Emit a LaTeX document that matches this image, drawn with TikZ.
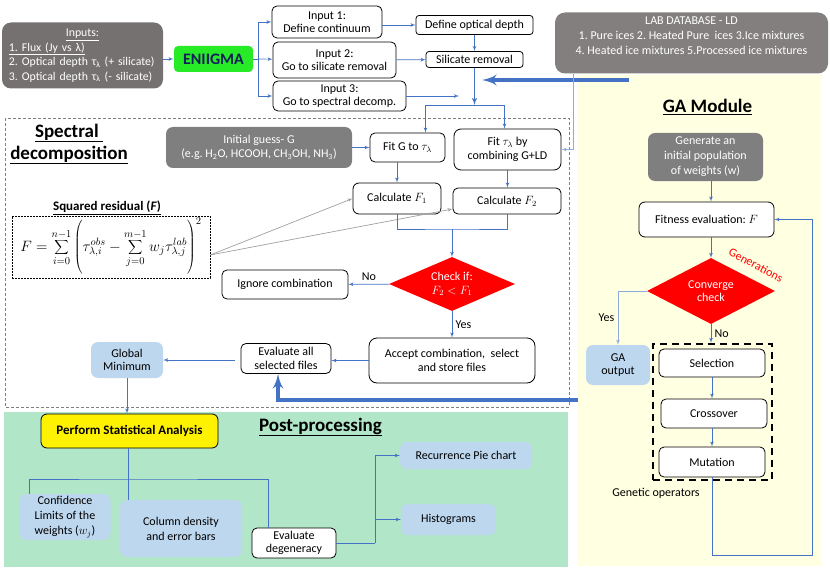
\documentclass[tikz,border=0pt]{standalone}
\usepackage{fix-cm}
\usepackage{fontspec}
\setmainfont{Carlito}
\frenchspacing
\usetikzlibrary{arrows,shapes.geometric}
\definecolor{arrowblue}{RGB}{68,114,196}
\definecolor{paleblue}{RGB}{143,170,220}
\definecolor{darkgrey}{RGB}{118,113,113}
\definecolor{midgrey}{RGB}{127,127,127}
\definecolor{skyblue}{RGB}{189,215,238}
\definecolor{mintgreen}{RGB}{178,230,200}
\definecolor{cream}{RGB}{255,255,226}
\definecolor{limegreen}{RGB}{40,235,40}
\definecolor{navy}{RGB}{20,30,90}
\definecolor{lightgrey}{RGB}{160,160,160}

\begin{document}
\begin{tikzpicture}[x=1pt,y=-1pt,>=latex',
  font=\fontsize{12}{13.5}\selectfont,
  box/.style={draw,rounded corners=5pt,fill=white,align=center,inner sep=1pt,line width=0.8pt},
  greybox/.style={fill=midgrey,rounded corners=7pt,text=white,align=center,inner sep=1pt},
  bluebox/.style={fill=skyblue,rounded corners=7pt,align=center,inner sep=1pt},
  decision/.style={diamond,aspect=2.3,fill=red,text=white,align=center,inner sep=0pt},
  blueline/.style={draw=arrowblue,line width=0.7pt},
  bluearrow/.style={blueline,->},
  bigarrow/.style={draw=arrowblue,line width=4pt,->},
  greyarrow/.style={draw=lightgrey,line width=0.7pt,->},
  title/.style={font=\fontsize{19}{22}\selectfont\bfseries,align=center}]
\useasboundingbox (0,0) rectangle (830,575);
\fill[cream] (577,75) rectangle (822,566);
\fill[mintgreen] (4,412) rectangle (568,567);
\draw[gray,line width=0.8pt,dash pattern=on 3pt off 2pt] (5,118) rectangle (569,407);

\node[greybox,fill=darkgrey,rounded corners=9pt,minimum width=161pt,minimum height=66pt,text width=147pt,align=left,font=\fontsize{11.8}{14.5}\selectfont] (inputs) at (82.5,55.5) {\makebox[147pt][c]{\underline{Inputs:}}\\\underline{1. Flux (Jy vs λ)}\\2. Optical depth τ\textsubscript{λ} (+ silicate)\\3. Optical depth τ\textsubscript{λ} (- silicate)};
\node[box,draw=none,fill=limegreen,rounded corners=4pt,minimum width=79pt,minimum height=26pt,font=\fontsize{16}{18}\selectfont\bfseries,text=navy] (eniigma) at (213.5,59) {ENIIGMA};
\node[box,minimum width=110pt,minimum height=32pt] (in1) at (327,22) {Input 1:\\Define continuum};
\node[box,minimum width=123pt,minimum height=36pt] (in2) at (334.5,60) {Input 2:\\Go to silicate removal};
\node[box,minimum width=133pt,minimum height=30pt] (in3) at (339.5,96) {Input 3:\\Go to spectral decomp.};
\node[box,rounded corners=3pt,minimum width=117pt,minimum height=19pt] (defod) at (474.5,25) {Define optical depth};
\node[box,rounded corners=3pt,minimum width=97pt,minimum height=16pt] (silrem) at (474.5,59.5) {Silicate removal};
\node[greybox,fill=darkgrey!90!white,rounded corners=10pt,minimum width=273pt,minimum height=61pt,font=\fontsize{12}{15}\selectfont] (ld) at (691.5,43) {LAB DATABASE - LD\\1. Pure ices 2. Heated Pure\ \ ices 3.Ice mixtures\\4. Heated ice mixtures 5.Processed ice mixtures\\\mbox{}};

\node[title] at (69,144) {\underline{Spectral\ }\\\underline{decomposition}};
\node[greybox,minimum width=186pt,minimum height=41pt] (guess) at (259,147.5) {Initial guess- G\\(e.g. H\textsubscript{2}O, HCOOH, CH\textsubscript{3}OH, NH\textsubscript{3})};
\node[box,minimum width=75pt,minimum height=29pt] (fitg) at (407.5,147.5) {Fit G to $\tau_\lambda$};
\node[box,rounded corners=7pt,minimum width=107pt,minimum height=41pt] (fitt) at (507.5,149.5) {Fit $\tau_\lambda$ by\\combining G+LD};
\node[box,rounded corners=6pt,minimum width=88pt,minimum height=31pt] (calc1) at (397,198.5) {Calculate $F_1$};
\node[box,minimum width=108pt,minimum height=26pt] (calc2) at (507,201) {Calculate $F_2$};
\node[font=\fontsize{13}{15}\selectfont\bfseries] (sqres) at (107,208) {\underline{Squared residual (\textit{F})}};
\node[draw,line width=0.5pt,dash pattern=on 2pt off 1pt,minimum width=198pt,minimum height=62pt,inner sep=0pt,font=\fontsize{15}{17}\selectfont] (formula) at (111,247) {$\displaystyle F=\sum_{i=0}^{n-1}\left(\rule[-25pt]{0pt}{52pt}\tau^{obs}_{\lambda,i}-\sum_{j=0}^{m-1}w_j\tau^{lab}_{\lambda,j}\right)^{2}$};
\node[decision,minimum width=126pt,minimum height=54pt] (check) at (452,284) {Check if:\\$F_2 < F_1$};
\node[box,minimum width=126pt,minimum height=29pt] (ignore) at (285,284.5) {Ignore combination};
\node[box,rounded corners=8pt,minimum width=166pt,minimum height=45pt] (accept) at (452,360.5) {Accept combination,\ \ select\\and store files};
\node[box,minimum width=90pt,minimum height=30pt] (evalall) at (286,358.5) {Evaluate all\\selected files};
\node[bluebox,minimum width=72pt,minimum height=36pt] (globmin) at (127,360) {Global\\Minimum};

\node[title] at (320.5,427) {\underline{Post-processing}};
\node[box,fill=yellow,rounded corners=6pt,minimum width=177pt,minimum height=34pt,font=\fontsize{13}{14}\selectfont\bfseries] (stat) at (129.5,431) {Perform Statistical Analysis};
\node[bluebox,minimum width=91pt,minimum height=46pt,font=\fontsize{12}{15}\selectfont] (conf) at (65,517) {Confidence\\Limits of the\\weights ($w_j$)};
\node[bluebox,minimum width=122pt,minimum height=57pt,font=\fontsize{12}{15}\selectfont] (coldens) at (181,528.5) {Column density\\and error bars};
\node[box,minimum width=84pt,minimum height=30pt] (evaldeg) at (294,543) {Evaluate\\degeneracy};
\node[bluebox,minimum width=132pt,minimum height=27pt] (pie) at (466,455.5) {Recurrence Pie chart};
\node[bluebox,minimum width=95pt,minimum height=31pt] (hist) at (448.5,519.5) {Histograms};

\node[title] at (707.5,107) {\underline{GA Module}};
\node[greybox,minimum width=115pt,minimum height=48pt,font=\fontsize{12}{15}\selectfont] (gen) at (705.5,157) {Generate an\\initial population\\of weights (w)};
\node[box,rounded corners=6pt,minimum width=135pt,minimum height=35pt] (fit) at (706.5,219.5) {Fitness evaluation: $F$};
\node[decision,aspect=2,minimum width=128pt,minimum height=66pt] (conv) at (711,291) {Converge\\check};
\node[text=red,rotate=-28] at (756,265) {Generations};
\node[bluebox,minimum width=64pt,minimum height=40pt] (gaout) at (618,365) {GA\\output};
\node[draw,line width=2.4pt,dash pattern=on 7pt off 5pt,minimum width=119pt,minimum height=136pt] (ops) at (712.5,412) {};
\node[box,minimum width=106pt,minimum height=28pt] (sel) at (712,363) {Selection};
\node[box,minimum width=106pt,minimum height=29pt] (cross) at (714,413.5) {Crossover};
\node[box,minimum width=106pt,minimum height=30pt] (mut) at (712,462) {Mutation};
\node at (656,493) {Genetic operators};

\coordinate (split) at (258,59);
\coordinate (fork) at (474.5,105);
\coordinate (in3end) at (459,96);
\coordinate (ldout) at (629,80);
\coordinate (ldin) at (482,80);
\coordinate (fmerge) at (452,229);
\coordinate (gaback) at (578,400);
\coordinate (statfork) at (128,479);
\coordinate (degfork) at (375,543);
\coordinate (loop) at (812,555);

\draw[bluearrow] (inputs.east |- eniigma) -- (eniigma);
\draw[blueline] (eniigma) -- (split);
\draw[bluearrow] (split) |- (in1);
\draw[bluearrow] (split) -- (in2);
\draw[bluearrow] (split) |- (in3);
\draw[bluearrow] (in1.east |- defod) -- (defod);
\draw[bluearrow] (in2) -- (silrem);
\draw[bluearrow] (defod) -- (silrem);
\draw[bluearrow,line width=1.4pt] (silrem) -- (fork);
\draw[bluearrow] (in3) -- (in3end);
\draw[bigarrow] (ldout) -- (ldin);
\draw[bluearrow] (fork) -| ([xshift=18pt]fitg.north);
\draw[bluearrow] (fork) -| ([xshift=-3pt]fitt.north);
\draw[bluearrow,draw=paleblue] ([xshift=-118pt]ld.south) |- (fitt);
\draw[bluearrow] (guess) -- (fitg);
\draw[bluearrow] (calc1.north |- fitg.south) -- (calc1);
\draw[bluearrow] (fitt.south) -- (fitt.south |- calc2.north);
\draw[greyarrow] ([yshift=-8pt]formula.east) -- (calc1.west);
\draw[greyarrow] ([yshift=-8pt]formula.east) -- ([yshift=-8pt]calc2.west);
\draw[blueline] (calc1) |- (fmerge) -| (calc2);
\draw[bluearrow] (fmerge) -- (check);
\draw[bluearrow] (check) -- node[above]{No} (ignore);
\draw[bluearrow] (check) -- node[right]{Yes} (accept);
\draw[bluearrow] (accept.west) -- (accept.west -| evalall.east);
\draw[bluearrow] ([xshift=-6pt]globmin.east -| evalall.west) -- (globmin.east);
\draw[bigarrow] (gaback) -| ([xshift=-8pt]evalall.south);
\draw[bluearrow] (globmin.south) -- (globmin.south |- stat.north);
\draw[blueline] (statfork |- stat.south) -- (statfork |- coldens.north);
\draw[blueline] ([xshift=-36pt]conf.north) |- (statfork) -| ([xshift=-26pt]evaldeg.north);
\draw[blueline] (evaldeg) -- (degfork);
\draw[bluearrow] (degfork) |- (pie);
\draw[bluearrow] (degfork) |- (hist);
\draw[bluearrow] (gen.south -| conv) -- (fit.north -| conv);
\draw[bluearrow] (fit.south -| conv) -- (conv);
\draw[bluearrow,draw=paleblue] (conv) -| node[pos=0.75,left]{Yes} (gaout);
\draw[bluearrow] (conv) -- node[right]{No} (conv.south |- ops.north);
\draw[bluearrow] (sel.south) -- (sel.south |- cross.north);
\draw[bluearrow] (sel.south |- cross.south) -- (sel.south |- mut.north);
\draw[bluearrow] (mut) |- (loop) |- (fit);
    %
\end{tikzpicture}
\end{document}
